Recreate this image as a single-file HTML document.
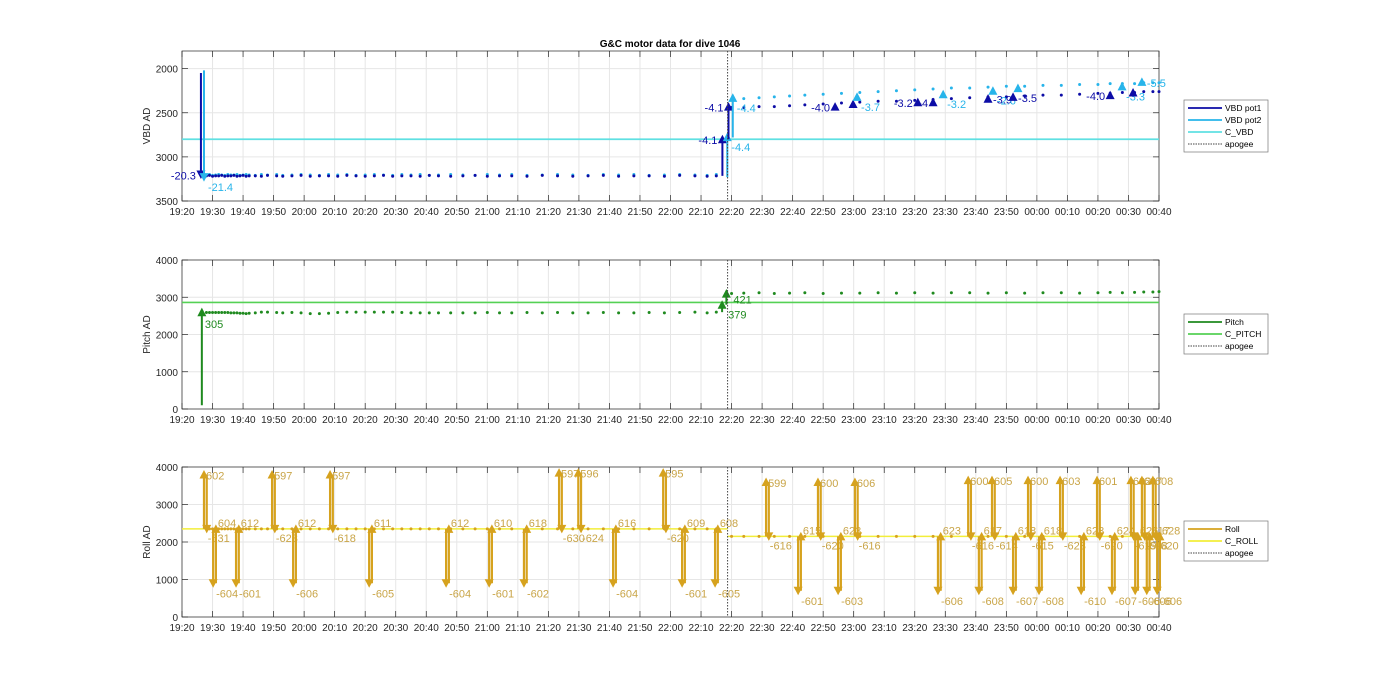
<!DOCTYPE html>
<html><head><meta charset="utf-8"><style>
html,body{margin:0;padding:0;background:#fff;}
svg{display:block;font-family:"Liberation Sans",Arial,sans-serif;}
</style></head><body>
<svg id="chart" width="1400" height="693" viewBox="0 0 1400 693" xmlns="http://www.w3.org/2000/svg">
<text x="670" y="47" font-size="10" font-weight="bold" text-anchor="middle" fill="#000">G&amp;C motor data for dive 1046</text>
</svg>
<script>
// ---- data ----
const xTickLabels=["19:20","19:30","19:40","19:50","20:00","20:10","20:20","20:30","20:40","20:50","21:00","21:10","21:20","21:30","21:40","21:50","22:00","22:10","22:20","22:30","22:40","22:50","23:00","23:10","23:20","23:30","23:40","23:50","00:00","00:10","00:20","00:30","00:40"];
const apogeeT=178.7;
const sampleT=[8,9,10,11,12,13,14,15,16,17,18,19,20,21,22,24,26,28,31,33,36,39,42,45,48,51,54,57,60,63,66,69,72,75,78,81,84,88,92,96,100,104,108,113,118,123,128,133,138,143,148,153,158,163,168,172,175,
180,184,189,194,199,204,210,216,222,228,234,240,246,252,258,264,270,276,282,288,294,300,304,308,312,315,318,320];
const vbd1Vals=[3215,3210,3220,3215,3215,3210,3220,3215,3215,3210,3220,3215,3210,3220,3215,3215,3220,3210,3215,3220,3215,3210,3220,3215,3215,3220,3210,3215,3220,3215,3210,3220,3215,3215,3220,3210,3215,3220,3215,3210,3220,3215,3215,3220,3210,3215,3220,3215,3210,3220,3215,3215,3220,3210,3215,3220,3215,
2440,2440,2430,2430,2420,2410,2400,2390,2380,2370,2370,2360,2350,2340,2330,2320,2320,2310,2300,2300,2290,2280,2280,2270,2270,2260,2260,2260];
const vbd2Vals=[3205,3200,3210,3205,3200,3205,3210,3200,3205,3205,3200,3210,3205,3200,3205,3210,3200,3205,3200,3210,3205,3200,3205,3210,3200,3205,3200,3210,3205,3200,3205,3210,3200,3205,3200,3210,3205,3200,3205,3210,3200,3205,3200,3210,3205,3200,3205,3210,3200,3205,3200,3210,3205,3200,3205,3210,3200,
2350,2340,2330,2320,2310,2300,2290,2280,2270,2260,2250,2240,2230,2220,2220,2210,2200,2200,2190,2190,2180,2180,2170,2170,2170,2160,2160,2160];
const pitchVals=[2590,2590,2590,2590,2590,2590,2590,2590,2580,2580,2580,2570,2570,2560,2570,2580,2600,2600,2590,2580,2590,2580,2560,2560,2570,2590,2600,2600,2600,2600,2600,2600,2590,2580,2580,2580,2580,2580,2580,2580,2590,2580,2580,2590,2580,2590,2580,2580,2590,2580,2580,2590,2580,2590,2600,2580,2600,
3100,3110,3120,3100,3110,3120,3100,3110,3110,3120,3110,3120,3110,3120,3120,3110,3120,3110,3120,3120,3110,3120,3130,3120,3130,3140,3140,3150];
const rollVals=[2350,2350,2350,2350,2350,2350,2350,2350,2350,2350,2350,2350,2350,2350,2350,2350,2350,2350,2350,2350,2350,2350,2350,2350,2350,2350,2350,2350,2350,2350,2350,2350,2350,2350,2350,2350,2350,2350,2350,2350,2350,2350,2350,2350,2350,2350,2350,2350,2350,2350,2350,2350,2350,2350,2350,2350,2350,
2150,2150,2150,2150,2150,2150,2150,2150,2150,2150,2150,2150,2150,2150,2150,2150,2150,2150,2150,2150,2150,2150,2150,2150,2150,2150,2150,2150];
const cVbd=2800, cPitch=2860, cRollPre=2350, cRollPost=2150;
// VBD moves
const vbdT=[6.2,7.2,177,178.6,179,180.4,213.9,219.8,221.1,241,246,249.3,264,265.6,272.2,273.8,304,307.9,311.5,314.4];
const vbdFrom=[2050,2020,3215,3230,2800,2780,2460,2430,2350,2410,2410,2320,2370,2280,2350,2250,2330,2230,2300,2180];
const vbdTo=[3200,3230,2800,2775,2430,2330,2430,2400,2320,2380,2380,2290,2340,2250,2320,2220,2300,2200,2270,2150];
const vbdSeries=[1,2,1,2,1,2,1,1,2,1,1,2,1,2,1,2,1,2,1,2];
const vbdLbl=["-20.3","-21.4","-4.1","-4.4","-4.1","-4.4","-4.0","","-3.7","-3.2","-4","-3.2","-3.9","-2.6","-3.5","","-4.0","-3.3","","-5.5"];
const vbdSide=["L","RB","L","RB","L","RB","L","","RB","L","L","RB","R","RB","R","","L","RB","","R"];
// pitch moves
const pitchT=[6.5,176.9,178.3];
const pitchFrom=[100,2600,2800];
const pitchTo=[2600,2800,3100];
const pitchLbl=["305","379","421"];
// roll moves
const rollT=[7.2,10.2,17.7,29.5,36.4,48.5,61.3,86.5,100.6,112,123.5,129.8,141.2,157.6,163.8,174.6,191.3,201.8,208.3,214.9,220.4,247.6,257.5,261,265.3,272.2,277.1,280.7,287.6,294.5,299.7,304.6,310.8,312.2,314.4,316,318,319.4];
const rollPeak=[3800,900,900,3800,900,3800,900,900,900,900,3850,3850,900,3850,900,900,3600,700,3600,700,3600,700,3650,700,3650,700,3650,700,3650,700,3650,700,3650,700,3650,700,3650,700];
const rollBase=[2350,2350,2350,2350,2350,2350,2350,2350,2350,2350,2350,2350,2350,2350,2350,2350,2150,2150,2150,2150,2150,2150,2150,2150,2150,2150,2150,2150,2150,2150,2150,2150,2150,2150,2150,2150,2150,2150];
const rollPeakLbl=["602","-604","-601","597","-606","597","-605","-604","-601","-602","597","596","-604","595","-601","-605","599","-601","600","-603","606","-606","600","-608","605","-607","600","-608","603","-610","601","-607","602","-606","607","-606","608","-606"];
const rollRetLbl=["-631","604","612","-623","612","-618","611","612","610","618","-630","-624","616","-620","609","608","-616","615","-620","623","-616","623","-616","617","-614","618","-615","618","-623","623","-620","624","-619","626","-618","617","-620","628"];

// ---- drawing ----
const svg=document.getElementById('chart');
const NS='http://www.w3.org/2000/svg';
const X0=182,X1=1159,T0=0,T1=320;
const xs=t=>X0+(t-T0)/(T1-T0)*(X1-X0);
function el(tag,attrs,parent){const e=document.createElementNS(NS,tag);for(const k in attrs)e.setAttribute(k,attrs[k]);(parent||svg).appendChild(e);return e;}
const panels=[
 {top:51,bottom:201,min:1800,max:3500,rev:true,ticks:[2000,2500,3000,3500],label:"VBD AD",name:"vbd"},
 {top:260,bottom:409,min:0,max:4000,rev:false,ticks:[0,1000,2000,3000,4000],label:"Pitch AD",name:"pitch"},
 {top:467,bottom:617,min:0,max:4000,rev:false,ticks:[0,1000,2000,3000,4000],label:"Roll AD",name:"roll"}];
panels.forEach(p=>{p.y=v=>p.rev?p.top+(v-p.min)/(p.max-p.min)*(p.bottom-p.top):p.bottom-(v-p.min)/(p.max-p.min)*(p.bottom-p.top);});

function drawAxes(p){
  const g=el('g',{});
  
  
  el('rect',{x:X0,y:p.top,width:X1-X0,height:p.bottom-p.top,fill:'#fff'},g);
  xTickLabels.forEach((lab,i)=>{const x=xs(i*10);
    el('line',{x1:x,x2:x,y1:p.top,y2:p.bottom,stroke:'#e6e6e6','stroke-width':1},g);});
  p.ticks.forEach(v=>{const y=p.y(v);el('line',{x1:X0,x2:X1,y1:y,y2:y,stroke:'#e6e6e6','stroke-width':1},g);});
  el('rect',{x:X0,y:p.top,width:X1-X0,height:p.bottom-p.top,fill:'none',stroke:'#262626','stroke-width':0.7},g);
  xTickLabels.forEach((lab,i)=>{const x=xs(i*10);
    el('line',{x1:x,x2:x,y1:p.bottom,y2:p.bottom-6,stroke:'#262626','stroke-width':0.7},g);
    el('line',{x1:x,x2:x,y1:p.top,y2:p.top+6,stroke:'#262626','stroke-width':0.7},g);
    const t=el('text',{x:x,y:p.bottom+14,'font-size':10,'text-anchor':'middle',fill:'#262626'},g);t.textContent=lab;
    });
  p.ticks.forEach(v=>{const y=p.y(v);
    el('line',{x1:X0,x2:X0+6,y1:y,y2:y,stroke:'#262626','stroke-width':0.7},g);
    el('line',{x1:X1,x2:X1-6,y1:y,y2:y,stroke:'#262626','stroke-width':0.7},g);
    const t=el('text',{x:X0-4,y:y+4,'font-size':10,'text-anchor':'end',fill:'#262626'},g);t.textContent=v;
    });
  const cy=(p.top+p.bottom)/2;
  const yl=el('text',{x:150,y:cy,'font-size':10,'text-anchor':'middle',fill:'#262626',transform:`rotate(-90 150 ${cy})`},g);
  yl.textContent=p.label;
  
}
panels.forEach(drawAxes);

function tri(x,y,up,color,s,parent){
  const pts=up?`${x-s},${y+s*0.9} ${x+s},${y+s*0.9} ${x},${y-s}`:`${x-s},${y-s*0.9} ${x+s},${y-s*0.9} ${x},${y+s}`;
  return el('polygon',{points:pts,fill:color},parent);
}
function arrow(p,t,v0,v1,color,w,parent){
  const x=xs(t),y0=p.y(v0),y1=p.y(v1);
  const l=el('line',{x1:x,x2:x,y1:y0,y2:y1,stroke:color,'stroke-width':w},parent);
  
  const tr=tri(x,y1,y1<y0,color,4.5,parent);
  
  return {x,y:y1};
}
function label(x,y,txt,color,anchor,parent){
  const t=el('text',{x,y,'font-size':11,fill:color,'text-anchor':anchor||'start'},parent);t.textContent=txt;
  
}
function dots(p,vals,color,parent){
  sampleT.forEach((t,i)=>{const c=el('circle',{cx:xs(t),cy:p.y(vals[i]),r:1.5,fill:color},parent);
    });
}
function hline(p,v,t0,t1,color,w,parent){
  const l=el('line',{x1:xs(t0),x2:xs(t1),y1:p.y(v),y2:p.y(v),stroke:color,'stroke-width':w},parent);
  
}
function apogee(p,parent){
  const l=el('line',{x1:xs(apogeeT),x2:xs(apogeeT),y1:p.top,y2:p.bottom,stroke:'#444','stroke-width':1,'stroke-dasharray':'1.5,1.5'},parent);
  
}
const C1='#0c0ca6',C2='#27b4ea',CV='#5fe0e2',CP='#1f8a1f',CCP='#55d155',CR='#d6a21e',CCR='#f2ee3a',LR='#c9a548';

// panel 1
{const p=panels[0];const g=el('g',{});
 hline(p,cVbd,0,320,CV,1.8,g);
 dots(p,vbd2Vals,C2,g);dots(p,vbd1Vals,C1,g);
 vbdT.forEach((t,i)=>{const c=vbdSeries[i]===1?C1:C2;
   const a=arrow(p,t,vbdFrom[i],vbdTo[i],c,2,g);
   if(vbdLbl[i]){const s=vbdSide[i];
     if(s==='L')label(a.x-5,a.y+5,vbdLbl[i],c,'end',g);
     else if(s==='RB')label(a.x+4,a.y+14,vbdLbl[i],c,'start',g);
     else label(a.x+5,a.y+5,vbdLbl[i],c,'start',g);}
 });
 apogee(p,g);}
// panel 2
{const p=panels[1];const g=el('g',{});
 hline(p,cPitch,0,320,CCP,1.6,g);
 dots(p,pitchVals,CP,g);
 pitchT.forEach((t,i)=>{const a=arrow(p,t,pitchFrom[i],pitchTo[i],CP,2,g);
   if(i===0)label(a.x+3,a.y+16,pitchLbl[i],CP,'start',g);
   else if(i===1)label(a.x+6,a.y+14,pitchLbl[i],CP,'start',g);
   else label(a.x+7,a.y+10,pitchLbl[i],CP,'start',g);});
 apogee(p,g);}
// panel 3
{const p=panels[2];const g=el('g',{});
 hline(p,cRollPre,0,apogeeT,CCR,1.6,g);hline(p,cRollPost,apogeeT,320,CCR,1.6,g);
 dots(p,rollVals,CR,g);
 rollT.forEach((t,i)=>{
   const a=arrow(p,t,rollBase[i],rollPeak[i],CR,2.2,g);
   const b=arrow(p,t+0.9,rollPeak[i],rollBase[i],CR,2.2,g);
   if(rollPeak[i]>rollBase[i]){label(a.x+2,a.y+5,rollPeakLbl[i],LR,'start',g);label(b.x+1,b.y+13,rollRetLbl[i],LR,'start',g);}
   else{label(a.x+3,a.y+14,rollPeakLbl[i],LR,'start',g);label(b.x+2,b.y-2,rollRetLbl[i],LR,'start',g);}
 });
 apogee(p,g);}

// legends
function legend(top,entries,name){
  const g=el('g',{});
  const h=entries.length*12+4;
  el('rect',{x:1184,y:top,width:84,height:h,fill:'#fff',stroke:'#777','stroke-width':0.7},g);
  entries.forEach((e,i)=>{const y=top+8+i*12;
    const ln=el('line',{x1:1188,x2:1222,y1:y,y2:y,stroke:e[1],'stroke-width':e[2]?1:1.8},g);
    if(e[2])ln.setAttribute('stroke-dasharray','1.5,1');
    const t=el('text',{x:1225,y:y+3,'font-size':8.5,fill:'#000'},g);t.textContent=e[0];
    });
}
legend(100,[["VBD pot1",C1],["VBD pot2",C2],["C_VBD",CV],["apogee","#444",1]],'vbd-legend');
legend(314,[["Pitch",CP],["C_PITCH",CCP],["apogee","#444",1]],'pitch-legend');
legend(521,[["Roll",CR],["C_ROLL",CCR],["apogee","#444",1]],'roll-legend');
</script>
</body></html>
